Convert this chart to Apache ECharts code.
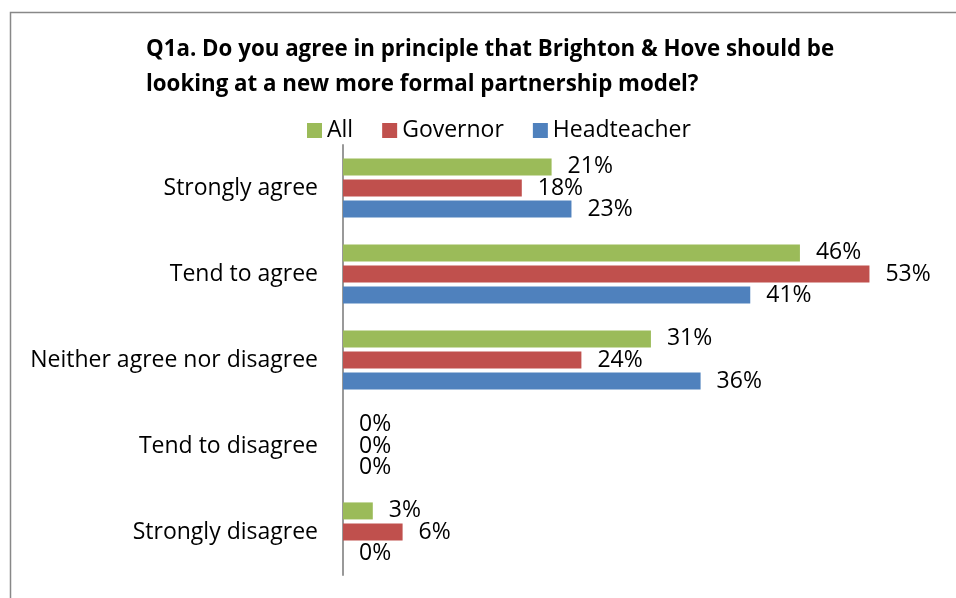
<!DOCTYPE html>
<html>
<head>
<meta charset="utf-8">
<script src="https://cdn.jsdelivr.net/npm/echarts@6/dist/echarts.min.js"></script>
<style>
html,body{margin:0;padding:0;background:#fff;}
#chart{width:956px;height:598px;}
</style>
</head>
<body>
<div id="chart"></div>
<script>
const categories = ['Strongly agree', 'Tend to agree', 'Neither agree nor disagree', 'Tend to disagree', 'Strongly disagree'];
const seriesNames = ['All', 'Governor', 'Headteacher'];
const allValues = [21, 46, 31, 0, 3];
const governorValues = [18, 53, 24, 0, 6];
const headteacherValues = [23, 41, 36, 0, 0];
const colors = ['#9BBB59', '#C0504D', '#4F81BD'];
const titleText = 'Q1a. Do you agree in principle that Brighton & Hove should be\nlooking at a new more formal partnership model?';

const FONT = 'Open Sans';
const chart = echarts.init(document.getElementById('chart'), null, {renderer: 'canvas'});
const dataSets = [allValues, governorValues, headteacherValues];
const series = seriesNames.map((name, i) => ({
  name: name,
  type: 'bar',
  data: dataSets[i],
  barWidth: 17,
  barGap: '24%',
  itemStyle: {color: colors[i]},
  label: {
    show: true,
    position: 'right',
    distance: 16,
    formatter: p => p.value + '%',
    color: '#000',
    fontFamily: FONT,
    fontSize: 23
  }
}));

chart.setOption({
  animation: false,
  backgroundColor: '#fff',
  graphic: [{
    type: 'rect',
    shape: {x: 10.5, y: 12.5, width: 1000, height: 1000},
    style: {fill: 'none', stroke: '#888', lineWidth: 1.5},
    silent: true
  }],
  title: {
    text: titleText,
    left: 141,
    top: 27,
    textStyle: {fontFamily: FONT, fontSize: 22.3, fontWeight: 'bold', color: '#000', lineHeight: 35}
  },
  legend: {
    data: seriesNames,
    top: 114,
    left: 302,
    itemWidth: 15,
    itemHeight: 15,
    itemGap: 29,
    icon: 'rect',
    textStyle: {fontFamily: FONT, fontSize: 23, color: '#000'}
  },
  grid: {left: 343, right: 19, top: 145, bottom: 23, containLabel: false},
  xAxis: {
    type: 'value',
    min: 0,
    max: 59.8,
    show: false,
    splitLine: {show: false}
  },
  yAxis: {
    type: 'category',
    data: categories,
    inverse: true,
    axisLine: {show: true, lineStyle: {color: '#999', width: 2}},
    axisTick: {show: false},
    axisLabel: {fontFamily: FONT, fontSize: 23, color: '#000', margin: 25}
  },
  series: series
});
</script>
</body>
</html>
